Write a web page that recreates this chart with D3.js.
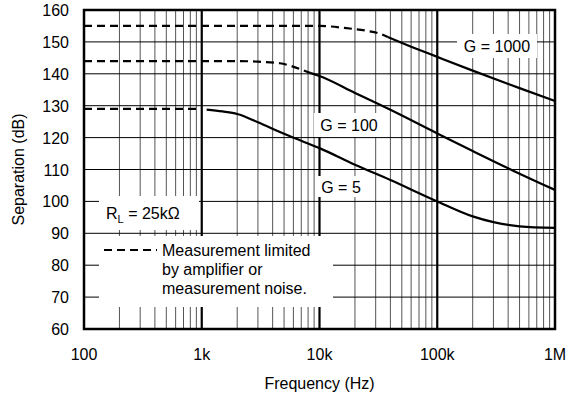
<!DOCTYPE html>
<html>
<head>
<meta charset="utf-8">
<title>Separation vs Frequency</title>
<style>
  body { margin: 0; background: #fff; }
  svg { display: block; font-family: 'Liberation Sans', Arial, sans-serif; }
</style>
<script src="https://d3js.org/d3.v7.min.js"></script>
</head>
<body>
<div id="chart"></div>
<script>
const W = 569, H = 395;
const M = { left: 84, top: 10, right: 14, bottom: 66 };
const PW = W - M.left - M.right, PH = H - M.top - M.bottom;

// data
const xTicks = [100, 1e3, 1e4, 1e5, 1e6];
const xTickLabels = ['100', '1k', '10k', '100k', '1M'];
const yTicks = [60, 70, 80, 90, 100, 110, 120, 130, 140, 150, 160];

const g1000DashF = [100, 1000, 10000, 17000, 25000, 33000, 38000];
const g1000DashV = [155, 155, 155, 154.3, 153.5, 152.5, 151.5];
const g1000F = [38000, 60000, 100000, 200000, 500000, 1e6];
const g1000V = [151.5, 148.5, 145.3, 141, 135.5, 131.5];

const g100DashF = [100, 1000, 2000, 3000, 4600, 7200, 8300];
const g100DashV = [144, 144, 144, 143.8, 143.3, 141.2, 140.3];
const g100F = [8300, 10000, 20000, 40000, 100000, 200000, 500000, 1e6];
const g100V = [140.3, 139.3, 134, 128.7, 121.3, 115.8, 108.7, 103.6];

const g5DashF = [100, 1000];
const g5DashV = [129, 129];
const g5F = [1100, 1500, 2000, 3000, 5000, 7000, 10000, 20000, 40000, 100000, 200000, 300000, 500000, 1e6];
const g5V = [128.8, 128.2, 127.4, 124.8, 121.2, 119, 116.7, 111.5, 106.7, 100, 95.3, 93.5, 92.2, 91.7];

const svg = d3.select('#chart').append('svg').attr('width', W).attr('height', H);
const g = svg.append('g').attr('transform', `translate(${M.left},${M.top})`);

const x = d3.scaleLog().domain([100, 1e6]).range([0, PW]);
const y = d3.scaleLinear().domain([60, 160]).range([PH, 0]);

// vertical grid (minor + decades)
const minor = [];
[100, 1e3, 1e4, 1e5].forEach(function (d) {
  for (let k = 2; k <= 9; k++) minor.push(d * k);
});
g.selectAll('.vminor').data(minor).enter().append('line')
  .attr('x1', d => x(d)).attr('x2', d => x(d))
  .attr('y1', 0).attr('y2', PH)
  .attr('stroke', '#555').attr('stroke-width', 1);
g.selectAll('.vmajor').data([1e3, 1e4, 1e5]).enter().append('line')
  .attr('x1', d => x(d)).attr('x2', d => x(d))
  .attr('y1', 0).attr('y2', PH)
  .attr('stroke', '#000').attr('stroke-width', 2.2);
g.selectAll('.hgrid').data(yTicks.slice(1, -1)).enter().append('line')
  .attr('x1', 0).attr('x2', PW)
  .attr('y1', d => y(d)).attr('y2', d => y(d))
  .attr('stroke', '#000').attr('stroke-width', 1);

// white boxes behind labels (page coords)
const boxes = [
  [99, 196, 100, 34],   // R_L
  [99, 236, 234, 71],   // legend
  [314, 113, 71, 24],   // G = 100
  [317, 176, 48, 21],   // G = 5
  [457, 34, 80, 24]     // G = 1000
];
svg.selectAll('.box').data(boxes).enter().append('rect')
  .attr('x', d => d[0]).attr('y', d => d[1])
  .attr('width', d => d[2]).attr('height', d => d[3])
  .attr('fill', '#fff');

// curves
const line = d3.line().x(d => x(d[0])).y(d => y(d[1])).curve(d3.curveMonotoneX);
function draw(f, v, dashed) {
  g.append('path')
    .datum(d3.zip(f, v))
    .attr('d', line)
    .attr('fill', 'none')
    .attr('stroke', '#000')
    .attr('stroke-width', 2.2)
    .attr('stroke-dasharray', dashed ? '8,5' : null);
}
draw(g1000DashF, g1000DashV, true);
draw(g1000F, g1000V, false);
draw(g100DashF, g100DashV, true);
draw(g100F, g100V, false);
draw(g5DashF, g5DashV, true);
draw(g5F, g5V, false);

// frame
g.append('rect').attr('width', PW).attr('height', PH)
  .attr('fill', 'none').attr('stroke', '#000').attr('stroke-width', 2.5);

// tick labels
const FS = 16;
g.selectAll('.xl').data(xTicks).enter().append('text')
  .attr('x', d => x(d)).attr('y', PH + 31)
  .attr('text-anchor', 'middle').attr('font-size', FS)
  .text((d, i) => xTickLabels[i]);
g.selectAll('.yl').data(yTicks).enter().append('text')
  .attr('x', -15).attr('y', d => y(d) + 6)
  .attr('text-anchor', 'end').attr('font-size', FS)
  .text(d => d);

svg.append('text').attr('x', M.left + PW / 2).attr('y', 389)
  .attr('text-anchor', 'middle').attr('font-size', 16).text('Frequency (Hz)');
svg.append('text').attr('transform', `translate(24,${M.top + PH / 2}) rotate(-90)`)
  .attr('text-anchor', 'middle').attr('font-size', 16).text('Separation (dB)');

// curve labels
const labels = [['G = 1000', 497, 52], ['G = 100', 349, 131], ['G = 5', 341, 193]];
svg.selectAll('.gl').data(labels).enter().append('text')
  .attr('x', d => d[1]).attr('y', d => d[2])
  .attr('text-anchor', 'middle').attr('font-size', FS)
  .text(d => d[0]);

// R_L label
const rl = svg.append('text').attr('x', 106).attr('y', 219).attr('font-size', FS);
rl.append('tspan').text('R');
rl.append('tspan').attr('font-size', 11).attr('dy', 4).text('L');
rl.append('tspan').attr('dy', -4).text(' = 25kΩ');

// legend
svg.append('line').attr('x1', 104).attr('x2', 157).attr('y1', 250).attr('y2', 250)
  .attr('stroke', '#000').attr('stroke-width', 2.2).attr('stroke-dasharray', '8,5');
const legLines = ['Measurement limited', 'by amplifier or', 'measurement noise.'];
svg.selectAll('.lg').data(legLines).enter().append('text')
  .attr('x', 162).attr('y', (d, i) => 256 + i * 19)
  .attr('font-size', FS).text(d => d);
</script>
</body>
</html>
